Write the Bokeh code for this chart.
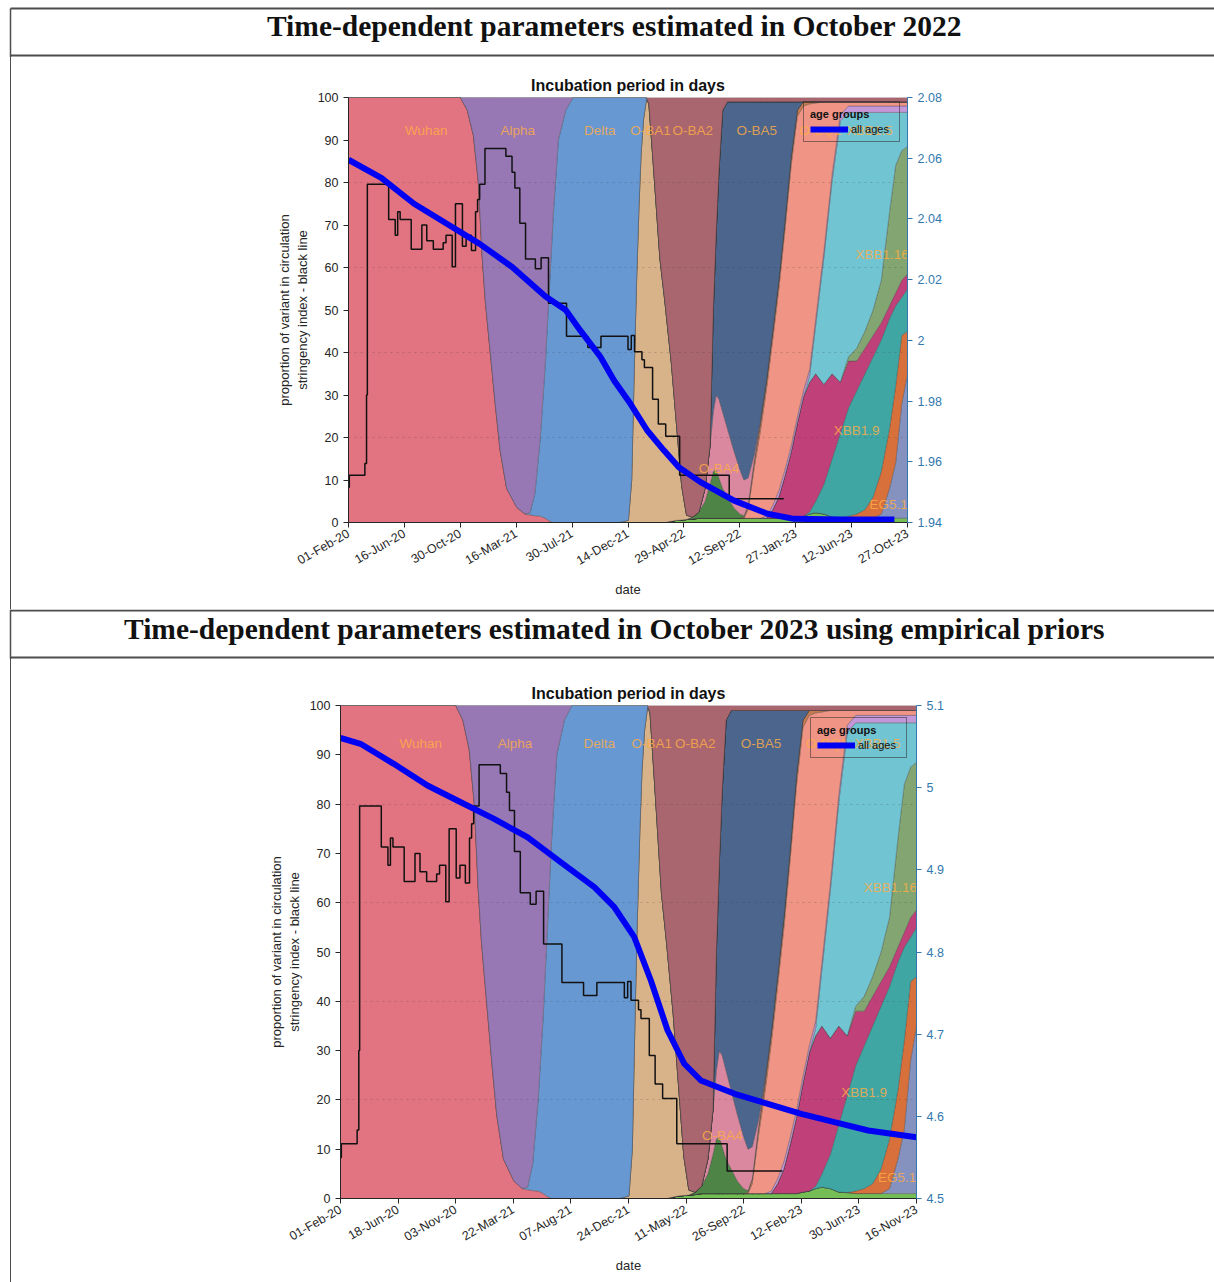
import math
from bokeh.plotting import figure
from bokeh.layouts import column, row
from bokeh.models import Range1d, LinearAxis, FixedTicker, Legend, LegendItem, Label, Div
from bokeh.core.properties import value
from bokeh.embed import file_html
from bokeh.resources import INLINE

# ------------------------------------------------------------------ texts
HEADER_1 = "Time-dependent parameters estimated in October 2022"
HEADER_2 = "Time-dependent parameters estimated in October 2023 using empirical priors"
CHART_TITLE = "Incubation period in days"
Y_LABEL = "proportion of variant in circulation\nstringency index - black line"
X_LABEL = "date"
R_LABEL = "time-dependant parameter"
LEGEND_TITLE = "age groups"
LEGEND_LABEL = "all ages"

# ------------------------------------------------------------------ axes
DATE_TICKS_1 = ["01-Feb-20", "16-Jun-20", "30-Oct-20", "16-Mar-21", "30-Jul-21", "14-Dec-21",
                "29-Apr-22", "12-Sep-22", "27-Jan-23", "12-Jun-23", "27-Oct-23"]
DATE_TICKS_2 = ["01-Feb-20", "18-Jun-20", "03-Nov-20", "22-Mar-21", "07-Aug-21", "24-Dec-21",
                "11-May-22", "26-Sep-22", "12-Feb-23", "30-Jun-23", "16-Nov-23"]
SPAN_DAYS_1 = 1364   # 01-Feb-20 .. 27-Oct-23
SPAN_DAYS_2 = 1384   # 01-Feb-20 .. 16-Nov-23
LEFT_TICKS = [0, 10, 20, 30, 40, 50, 60, 70, 80, 90, 100]
RIGHT_TICKS_1 = [1.94, 1.96, 1.98, 2.00, 2.02, 2.04, 2.06, 2.08]
RIGHT_TICK_LABELS_1 = ["1.94", "1.96", "1.98", "2", "2.02", "2.04", "2.06", "2.08"]
RIGHT_TICKS_2 = [4.5, 4.6, 4.7, 4.8, 4.9, 5.0, 5.1]
RIGHT_TICK_LABELS_2 = ["4.5", "4.6", "4.7", "4.8", "4.9", "5", "5.1"]

# ------------------------------------------------------------------ stringency index (step line, days since 01-Feb-20)
STRINGENCY_DAYS = [0, 2, 40, 44, 46, 98, 114, 120, 126, 153, 179, 191, 207, 231, 238, 253, 261, 278,
                   287, 300, 310, 315, 320, 333, 384, 399, 406, 418, 432, 456, 470, 488, 532, 584,
                   616, 682, 690, 698, 716, 722, 742, 756, 774, 808, 929, 1062]
STRINGENCY = [8.3, 11.1, 13.9, 30.0, 79.6, 71.3, 67.6, 73.1, 71.3, 64.3, 70.0, 66.3, 64.3, 65.8,
              67.6, 60.2, 75.0, 65.0, 67.6, 64.0, 73.1, 76.0, 79.6, 88.0, 86.2, 82.4, 78.7, 70.4,
              62.0, 59.7, 62.3, 51.6, 43.8, 41.2, 43.8, 40.7, 44.0, 40.2, 38.3, 36.5, 29.0, 23.2,
              20.3, 11.1, 5.6, 5.6]

# ------------------------------------------------------------------ time-dependent parameter (blue line)
PARAM_DAYS_1 = [0, 80, 160, 240, 320, 400, 480, 530, 566, 615, 648, 688, 729, 770, 806, 859, 941,
                1022, 1087, 1200, 1332]
PARAM_1 = [2.0595, 2.0535, 2.0450, 2.0384, 2.0318, 2.0241, 2.0145, 2.0100, 2.0032, 1.9945, 1.9868,
           1.9791, 1.9703, 1.9637, 1.9582, 1.9533, 1.9472, 1.9429, 1.9412, 1.9410, 1.9410]
PARAM_DAYS_2 = [0, 48, 128, 209, 289, 369, 449, 529, 610, 658, 706, 746, 786, 826, 866, 947, 1027,
                1107, 1187, 1268, 1384]
PARAM_2 = [5.0605, 5.0534, 5.0290, 5.0026, 4.9823, 4.9620, 4.9397, 4.9093, 4.8789, 4.8545, 4.8180,
           4.7650, 4.7045, 4.6640, 4.6436, 4.6274, 4.6152, 4.6030, 4.5929, 4.5828, 4.5746]

# ------------------------------------------------------------------ variant shares (% of circulation)
# sampled on the 2022 chart's time axis (days); the 2023 chart stretches the same series over its axis
VARIANT_GRID = [0, 250, 273, 290, 305, 317, 326, 334, 346, 358, 370, 386, 411, 431, 443, 455, 468,
                480, 490, 500, 512, 530, 548, 600, 660, 683, 691, 697, 703, 709, 714, 720, 727, 733,
                744, 760, 772, 788, 800, 813, 825, 840, 855, 870, 882, 890, 897, 904, 913, 925, 940,
                955, 965, 975, 990, 1005, 1020, 1035, 1050, 1065, 1080, 1095, 1110, 1125, 1140,
                1160, 1180, 1200, 1220, 1240, 1260, 1280, 1300, 1320, 1335, 1350, 1364]

OTHER = {788: 0.3, 800: 0.5, 813: 0.6, 825: 0.7, 840: 0.8, 855: 1, 870: 1, 882: 1, 890: 1, 897: 1,
         904: 1, 913: 1, 925: 1, 940: 1, 955: 1, 965: 1, 975: 1, 990: 1, 1005: 1, 1020: 1, 1035: 1,
         1050: 1, 1065: 1, 1080: 1, 1095: 1.3, 1110: 1.5, 1125: 2, 1140: 2.3, 1160: 2, 1180: 1.3,
         1200: 1.2, 1220: 1, 1240: 1, 1260: 1, 1280: 1, 1300: 1, 1320: 1, 1335: 1, 1350: 1, 1364: 1}
GRAYBLUE = {1300: 1, 1320: 7, 1335: 13, 1350: 27, 1364: 34}
ORANGE = {1220: 0.5, 1240: 1, 1260: 2, 1280: 5, 1300: 10, 1320: 14, 1335: 18, 1350: 16, 1364: 10}
XBB19 = {1125: 0.5, 1140: 2.7, 1160: 7, 1180: 13.7, 1200: 19.8, 1220: 25.5, 1240: 29, 1260: 32,
         1280: 33, 1300: 31, 1320: 26, 1335: 19, 1350: 9, 1364: 10}
MAGENTA = {1035: 2, 1050: 5, 1065: 10, 1080: 15.5, 1095: 22, 1110: 28, 1125: 30.5, 1140: 30,
           1160: 23.5, 1180: 20, 1200: 12, 1220: 11, 1240: 7, 1260: 6, 1280: 5, 1300: 4, 1320: 3,
           1335: 3, 1350: 4, 1364: 3.5}
XBB116 = {1220: 1, 1240: 3, 1260: 4, 1280: 6, 1300: 10, 1320: 22, 1335: 30, 1350: 30.5, 1364: 30}
XBB15 = {1125: 1.5, 1140: 11.5, 1160: 30, 1180: 45.5, 1200: 61.5, 1220: 57.5, 1240: 55.5,
         1260: 51.5, 1280: 46.5, 1300: 39.5, 1320: 23.5, 1335: 12.5, 1350: 9, 1364: 8}
LAVENDER = {1020: 0.5, 1035: 1, 1050: 1.5, 1065: 1.5, 1080: 1.5, 1095: 1.5, 1110: 1.5, 1125: 1.5,
            1140: 1.5, 1160: 1.5, 1180: 1.5, 1200: 1.5, 1220: 1.5, 1240: 1.5, 1260: 1.5, 1280: 1.5,
            1300: 1.5, 1320: 1.5, 1335: 1.5, 1350: 1.5, 1364: 1.5}
BQ1 = {975: 2, 990: 12, 1005: 20.5, 1020: 30, 1035: 39, 1050: 47.5, 1065: 56.5, 1080: 66,
       1095: 70.7, 1110: 67, 1125: 62.5, 1140: 50.7, 1160: 35, 1180: 17, 1200: 3, 1220: 1,
       1240: 1, 1260: 1, 1280: 1, 1300: 1, 1320: 1, 1335: 1, 1350: 1, 1364: 1}
BROWN = {965: 0.3, 975: 1, 990: 1.5, 1005: 2, 1020: 2, 1035: 2, 1050: 2, 1065: 2, 1080: 2,
         1095: 1.5, 1110: 1, 1125: 0.5, 1140: 0.3}
BA4 = {840: 0.5, 855: 1.5, 870: 4, 882: 8, 890: 11, 897: 11.5, 904: 9.5, 913: 7, 925: 5, 940: 2.5,
       955: 1, 965: 0.3}
PINK = {870: 3, 882: 9, 890: 14, 897: 17.5, 904: 18.5, 913: 18, 925: 16, 940: 13.5, 955: 10.5,
        965: 8.4, 975: 6.5, 990: 1.5, 1005: 0.5}
BA5 = {890: 24, 897: 38, 904: 54, 913: 71, 925: 77, 940: 82, 955: 86.5, 965: 89, 975: 88.5,
       990: 83, 1005: 75, 1020: 65.5, 1035: 54, 1050: 42, 1065: 28, 1080: 13, 1095: 2}
BA1 = {683: 0.5, 691: 10, 697: 35, 703: 57, 709: 75, 714: 87, 720: 95, 727: 99.5, 733: 98.5,
       744: 84, 760: 62, 772: 52, 788: 37, 800: 23, 813: 8, 825: 1}
WUHAN = {0: 100, 250: 100, 273: 100, 290: 97, 305: 91, 317: 80, 326: 63, 334: 52, 346: 40,
         358: 28, 370: 17, 386: 8, 411: 3.5, 431: 2, 443: 1.8, 455: 1.6, 468: 1.5, 480: 1, 490: 0.4}
DELTA = {443: 0.5, 455: 5.4, 468: 18.5, 480: 36, 490: 54.6, 500: 73, 512: 90, 530: 97, 548: 100,
         600: 100, 660: 100, 683: 99.5, 691: 90, 697: 65, 703: 43, 709: 25, 714: 13, 720: 5,
         727: 0.5}
ALPHA = {290: 3, 305: 9, 317: 20, 326: 37, 334: 48, 346: 60, 358: 72, 370: 83, 386: 92, 411: 96.5,
         431: 98, 443: 97.7, 455: 93, 468: 80, 480: 63, 490: 45, 500: 27, 512: 10, 530: 3}
BA2 = {733: 1.5, 744: 16, 760: 38, 772: 48, 788: 62.7, 800: 76.5, 813: 91.4, 825: 98.3, 840: 98.7,
       855: 97.5, 870: 92, 882: 82, 890: 50, 897: 32, 904: 17, 913: 3, 925: 1, 940: 1, 955: 1,
       965: 1, 975: 1, 990: 1, 1005: 1, 1020: 1, 1035: 1, 1050: 1, 1065: 1, 1080: 1, 1095: 1,
       1110: 1, 1125: 1, 1140: 1, 1160: 1, 1180: 1, 1200: 1, 1220: 1, 1240: 1, 1260: 1, 1280: 1,
       1300: 1, 1320: 1, 1335: 1, 1350: 1, 1364: 1}

# stacking order, bottom to top
VARIANT_SHARES = [OTHER, GRAYBLUE, ORANGE, XBB19, MAGENTA, XBB116, XBB15, LAVENDER, BQ1, BROWN,
                  BA4, PINK, BA5, BA1, WUHAN, DELTA, ALPHA, BA2]
VARIANT_COLORS = ["#74BE55", "#8592BF", "#D8703C", "#3FA6A3", "#C0407A", "#82A571", "#71C4D1",
                  "#C497D9", "#F09486", "#C77A4E", "#4F8447", "#D9889F", "#4B658D", "#D8B38A",
                  "#E27482", "#6898D2", "#9778B5", "#A9666F"]

VARIANT_LABELS = ["Wuhan", "Alpha", "Delta", "O-BA1", "O-BA2", "O-BA5", "O-BQ1", "XBB1.5",
                  "XBB1.16", "XBB1.9", "O-BA4", "EG5.1"]
LABEL_DAYS = [190, 413, 613, 737, 840, 996, 1152, 1272, 1302, 1240, 904, 1318]
LABEL_PCT = [92.2, 92.2, 92.2, 92.2, 92.2, 92.2, 92.2, 92.2, 63.0, 21.6, 12.7, 4.2]

# ------------------------------------------------------------------ styling
PAGE_W = 1214
STRIP_W = 11
BORDER = "#4d4d4d"
INK = "#262626"
AXIS_BLUE = "#3278AE"
FONT = "Liberation Sans"


def header_fig(text, height, top_y, bottom_y, text_y, vline_from):
    p = figure(width=PAGE_W, height=height, x_range=Range1d(0, PAGE_W), y_range=Range1d(height, 0),
               x_axis_location=None, y_axis_location=None, toolbar_location=None,
               output_backend="svg", min_border=0)
    p.grid.visible = False
    p.outline_line_color = None
    p.segment(x0=[10, 10], y0=[top_y, bottom_y], x1=[PAGE_W, PAGE_W], y1=[top_y, bottom_y],
              line_color=BORDER, line_width=2)
    p.segment(x0=[10], y0=[vline_from], x1=[10], y1=[height], line_color=BORDER, line_width=1.5)
    p.text(x=[614], y=[text_y], text=[text], text_align="center", text_baseline="middle",
           text_font=value("Liberation Serif"), text_font_style="bold", text_font_size="29.5px",
           text_color="#111111")
    return p


def strip(height):
    # left table border of the panel
    return Div(text="", width=STRIP_W, height=height, margin=0,
               styles={"box-sizing": "border-box", "border-right": f"1.5px solid {BORDER}",
                       "margin": "0", "padding": "0"})


def style_axis(ax, color):
    ax.axis_line_color = color
    ax.major_tick_line_color = color
    ax.minor_tick_line_color = None
    ax.major_tick_in = 0
    ax.major_tick_out = 5
    ax.major_label_text_font = FONT
    ax.major_label_text_font_size = "12.5px"
    ax.major_label_text_color = color
    ax.axis_label_text_font = FONT
    ax.axis_label_text_font_size = "13px"
    ax.axis_label_text_font_style = "normal"
    ax.axis_label_text_color = color


def chart_fig(height, span, date_labels, borders, right_range, right_ticks, right_labels,
              param_days, param_vals, legend_loc, rlabel_offset):
    ml, mr, mt, mb = borders
    p = figure(width=PAGE_W - STRIP_W, height=height, x_range=Range1d(0, span),
               y_range=Range1d(0, 100), toolbar_location=None, output_backend="svg",
               title=CHART_TITLE, min_border_left=ml, min_border_right=mr, min_border_top=mt,
               min_border_bottom=mb, margin=0)
    p.outline_line_color = None
    p.title.align = "center"
    p.title.text_font = FONT
    p.title.text_font_size = "16px"
    p.title.text_font_style = "bold"
    p.title.text_color = "#111111"
    p.title.standoff = 8

    tick_pos = [span * k / 10 for k in range(11)]
    xa = p.xaxis[0]
    xa.ticker = FixedTicker(ticks=tick_pos)
    xa.major_label_overrides = dict(zip(tick_pos, date_labels))
    xa.major_label_orientation = math.pi / 6
    xa.axis_label = X_LABEL
    ya = p.yaxis[0]
    ya.ticker = FixedTicker(ticks=LEFT_TICKS)
    ya.axis_label = Y_LABEL
    style_axis(xa, INK)
    style_axis(ya, INK)

    p.xgrid.visible = False
    p.ygrid.ticker = FixedTicker(ticks=[20, 40, 60, 80])
    p.ygrid.grid_line_color = "#303030"
    p.ygrid.grid_line_alpha = 0.22
    p.ygrid.grid_line_dash = "dotted"
    p.ygrid.level = "annotation"

    p.extra_y_ranges = {"param": Range1d(*right_range)}
    ra = LinearAxis(y_range_name="param", ticker=FixedTicker(ticks=right_ticks),
                    major_label_overrides=dict(zip(right_ticks, right_labels)))
    style_axis(ra, AXIS_BLUE)
    p.add_layout(ra, "right")

    # stacked variant areas
    stretch = span / SPAN_DAYS_1
    grid = [d * stretch for d in VARIANT_GRID]
    xs, ys = [], []
    cum = [0.0] * len(grid)
    for shares in VARIANT_SHARES:
        vals = [shares.get(d, 0.0) for d in VARIANT_GRID]
        top = [c + v for c, v in zip(cum, vals)]
        xs.append(grid + grid[::-1])
        ys.append(top + cum[::-1])
        cum = top
    p.patches(xs=xs, ys=ys, fill_color=VARIANT_COLORS, line_color="#3a3a3a", line_alpha=0.45,
              line_width=0.7)

    p.text(x=[d * stretch for d in LABEL_DAYS], y=LABEL_PCT, text=VARIANT_LABELS,
           text_font=value(FONT), text_font_size="13.5px",
           text_color="#FFAD45", text_alpha=0.82, text_align="center", text_baseline="middle")

    p.step(x=STRINGENCY_DAYS, y=STRINGENCY, mode="after", line_color="#111111", line_width=1.5)
    blue = p.line(x=param_days, y=param_vals, y_range_name="param", line_color="#0000F2",
                  line_width=6)

    leg = Legend(items=[LegendItem(label=LEGEND_LABEL, renderers=[blue])], title=LEGEND_TITLE,
                 location=legend_loc)
    leg.title_text_font = FONT
    leg.title_text_font_style = "bold"
    leg.title_text_font_size = "11px"
    leg.title_text_color = "#111111"
    leg.title_standoff = 3
    leg.label_text_font = FONT
    leg.label_text_font_size = "11px"
    leg.label_text_color = "#111111"
    leg.border_line_color = "#222222"
    leg.border_line_width = 1
    leg.background_fill_alpha = 0
    leg.glyph_width = 38
    leg.glyph_height = 12
    leg.label_height = 12
    leg.label_width = 42
    leg.label_standoff = 3
    leg.padding = 6
    leg.spacing = 0
    leg.margin = 0
    p.add_layout(leg)

    p.add_layout(Label(x=span + rlabel_offset, y=50, text=R_LABEL, angle=math.pi / 2,
                       text_align="center", text_baseline="middle", text_font=FONT,
                       text_font_size="13px", text_color=AXIS_BLUE))
    return p


chart1 = chart_fig(552, SPAN_DAYS_1, DATE_TICKS_1, (348 - STRIP_W, 307, 40, 87), (1.94, 2.08),
                   RIGHT_TICKS_1, RIGHT_TICK_LABELS_1, PARAM_DAYS_1, PARAM_1, (455, 380), 117)
chart2 = chart_fig(623, SPAN_DAYS_2, DATE_TICKS_2, (340 - STRIP_W, 298, 46, 84), (4.5, 5.1),
                   RIGHT_TICKS_2, RIGHT_TICK_LABELS_2, PARAM_DAYS_2, PARAM_2, (470, 440), 106)

layout = column(
    header_fig(HEADER_1, 57, 8, 55, 25, 8),
    row(strip(552), chart1, spacing=0, margin=0),
    header_fig(HEADER_2, 50, 1, 48, 19, 0),
    row(strip(623), chart2, spacing=0, margin=0),
    spacing=0, margin=0,
)

open("out.html", "w").write(file_html(layout, INLINE, title="Incubation period in days"))
